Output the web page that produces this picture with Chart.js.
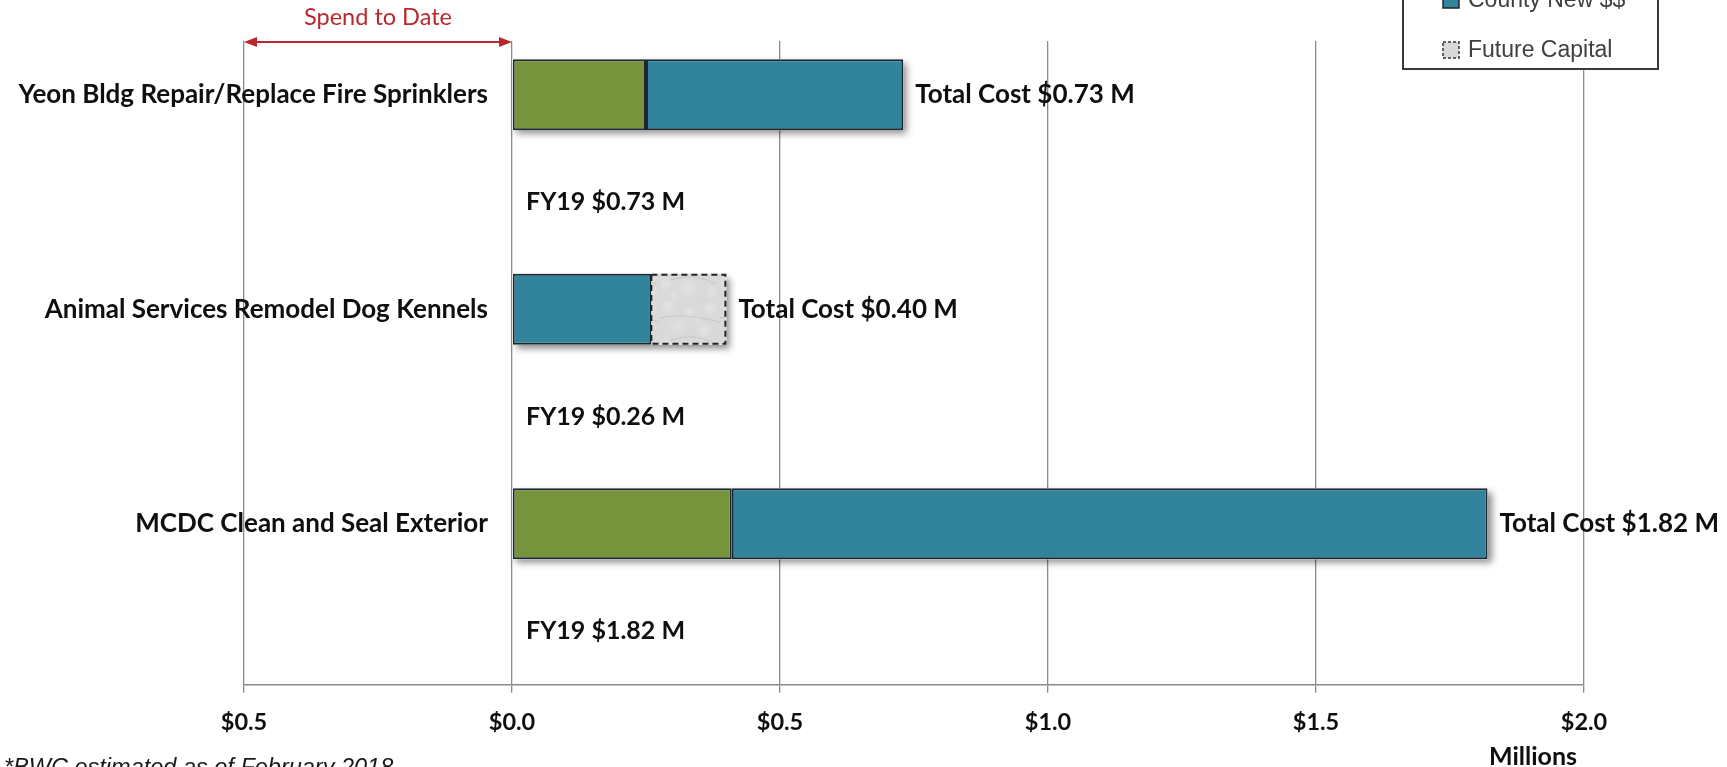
<!DOCTYPE html>
<html>
<head>
<meta charset="utf-8">
<script src="https://cdn.jsdelivr.net/npm/chart.js@4/dist/chart.umd.min.js"></script>
<style>
  html, body { margin: 0; padding: 0; background: #ffffff; overflow: hidden; }
  #wrap { position: relative; width: 1727px; height: 767px; }
</style>
</head>
<body>
<div id="wrap"><canvas id="c" width="1727" height="767"></canvas></div>
<script>
// Project rows; the blank rows carry the FY19 funding notes
const categories = [
  'Yeon Bldg Repair/Replace Fire Sprinklers', '',
  'Animal Services Remodel Dog Kennels', '',
  'MCDC Clean and Seal Exterior', ''
];
// $ millions
const spentToDate   = [0.25, null, null, null, 0.41, null];
const countyNew     = [0.48, null, 0.26, null, 1.41, null];
const futureCapital = [null, null, 0.14, null, null, null];
const fy19Funding   = [null, 0.73, null, 0.26, null, 1.82];
const seriesNames   = ['County Existing $$', 'County New $$', 'Future Capital'];

const GREEN = '#77933C', TEAL = '#31849B', OUTLINE = '#1b2631', INK = '#0f0f0f';
const NAME_FONT = 'bold 26px Lato';
const NOTE_FONT = 'bold 25px Lato';

// light grey mottled fill for unfunded work
function stoneFill() {
  const p = document.createElement('canvas');
  p.width = 60; p.height = 60;
  const g = p.getContext('2d');
  g.fillStyle = '#d9d9d9';
  g.fillRect(0, 0, 60, 60);
  const spots = [
    [8, 6, 9, 0.30], [30, 12, 7, 0.25], [50, 8, 8, 0.28], [18, 26, 10, 0.22], [44, 30, 9, 0.30],
    [6, 44, 8, 0.26], [28, 48, 11, 0.24], [52, 52, 7, 0.28], [38, 20, 5, 0.2], [14, 56, 6, 0.22]
  ];
  spots.forEach(([x, y, r, a]) => {
    const rg = g.createRadialGradient(x, y, 0, x, y, r);
    rg.addColorStop(0, 'rgba(255,255,255,' + a + ')');
    rg.addColorStop(1, 'rgba(255,255,255,0)');
    g.fillStyle = rg;
    g.fillRect(x - r, y - r, 2 * r, 2 * r);
  });
  g.strokeStyle = 'rgba(160,160,160,0.30)';
  g.lineWidth = 1;
  [[0, 18, 20, 12, 60, 22], [10, 40, 34, 32, 56, 44]].forEach(s => {
    g.beginPath(); g.moveTo(s[0], s[1]); g.quadraticCurveTo(s[2], s[3], s[4], s[5]); g.stroke();
  });
  return g.createPattern(p, 'repeat');
}

function rowTotal(i) {
  return (spentToDate[i] || 0) + (countyNew[i] || 0) + (futureCapital[i] || 0);
}

// soft drop shadow under each whole stacked bar, dashed edge on future capital
const stackShadow = {
  id: 'stackShadow',
  beforeDatasetsDraw(chart) {
    const ctx = chart.ctx, xs = chart.scales.x, ys = chart.scales.y;
    const thick = chart.getDatasetMeta(1).data.find(e => e && isFinite(e.height) && e.height > 0);
    if (!thick) return;
    const h = thick.height;
    ctx.save();
    ctx.shadowColor = 'rgba(0,0,0,0.45)';
    ctx.shadowBlur = 7;
    ctx.shadowOffsetX = 4;
    ctx.shadowOffsetY = 4;
    ctx.fillStyle = '#ffffff';
    categories.forEach((_, i) => {
      const t = rowTotal(i);
      if (!t) return;
      const x0 = xs.getPixelForValue(0), x1 = xs.getPixelForValue(t), yc = ys.getPixelForValue(i);
      ctx.fillRect(x0, yc - h / 2, x1 - x0, h);
    });
    ctx.restore();
  },
  afterDatasetsDraw(chart) {
    const ctx = chart.ctx;
    const meta = chart.getDatasetMeta(2);
    ctx.save();
    ctx.strokeStyle = '#222222';
    ctx.lineWidth = 2;
    ctx.setLineDash([6, 4]);
    meta.data.forEach((el, i) => {
      if (futureCapital[i] == null) return;
      const p = el.getProps(['x', 'y', 'base', 'height'], true);
      const l = Math.min(p.x, p.base), r = Math.max(p.x, p.base);
      ctx.strokeRect(l, p.y - p.height / 2 + 1, r - l - 1, p.height - 2);
    });
    ctx.restore();
  }
};

// category names, value notes, spend bracket, legend, footnotes
const annotations = {
  id: 'annotations',
  afterDraw(chart) {
    const ctx = chart.ctx, xs = chart.scales.x, ys = chart.scales.y;
    const zeroX = xs.getPixelForValue(0);
    ctx.save();
    ctx.fillStyle = INK;
    ctx.textBaseline = 'middle';

    categories.forEach((name, i) => {
      const yc = ys.getPixelForValue(i);
      if (name) {
        ctx.font = NAME_FONT;
        ctx.textAlign = 'right';
        ctx.fillText(name, zeroX - 24, yc);
      }
      const t = rowTotal(i);
      if (t) {
        ctx.font = NAME_FONT;
        ctx.textAlign = 'left';
        ctx.fillText('Total Cost $' + t.toFixed(2) + ' M', xs.getPixelForValue(t) + 12, yc);
      }
      if (fy19Funding[i] != null) {
        ctx.font = NOTE_FONT;
        ctx.textAlign = 'left';
        ctx.fillText('FY19 $' + fy19Funding[i].toFixed(2) + ' M', zeroX + 14, yc);
      }
    });

    // spend-to-date bracket across the negative side of the axis
    const aL = xs.getPixelForValue(-0.5), aR = zeroX, aY = 42;
    ctx.strokeStyle = '#B8282E';
    ctx.fillStyle = '#B8282E';
    ctx.lineWidth = 2;
    ctx.beginPath();
    ctx.moveTo(aL + 4, aY); ctx.lineTo(aR - 4, aY); ctx.stroke();
    [[aL, 1], [aR, -1]].forEach(([px, dir]) => {
      ctx.beginPath();
      ctx.moveTo(px, aY);
      ctx.lineTo(px + dir * 13, aY - 5);
      ctx.lineTo(px + dir * 13, aY + 5);
      ctx.closePath();
      ctx.fill();
    });
    ctx.font = '23.5px Lato';
    ctx.textAlign = 'center';
    ctx.textBaseline = 'alphabetic';
    ctx.fillText('Spend to Date', (aL + aR) / 2, 25);

    // axis unit
    ctx.fillStyle = INK;
    ctx.font = NOTE_FONT;
    ctx.textAlign = 'center';
    ctx.fillText('Millions', 1533, 765);

    // footnote
    ctx.font = 'italic 23.5px "Liberation Sans"';
    ctx.textAlign = 'left';
    ctx.fillStyle = '#1a1a1a';
    ctx.fillText('*BWC estimated as of February 2018', 4, 775);

    // legend box (top entries run off the top edge)
    const lx = 1403, lw = 255, lb = 69, pitch = 50;
    ctx.fillStyle = '#ffffff';
    ctx.fillRect(lx, lb - 180, lw, 180);
    ctx.strokeStyle = '#3a3a3a';
    ctx.lineWidth = 2;
    ctx.setLineDash([]);
    ctx.strokeRect(lx, lb - 180, lw, 180);
    ctx.font = '23px "Liberation Sans"';
    ctx.textAlign = 'left';
    chart.data.datasets.forEach((ds, k) => {
      const base = 57 - (chart.data.datasets.length - 1 - k) * pitch;
      const sx = 1443, sy = base - 15, ss = 16;
      if (k === 2) {
        ctx.fillStyle = '#d9d9d9';
        ctx.fillRect(sx, sy, ss, ss);
        ctx.strokeStyle = '#333333';
        ctx.lineWidth = 1.5;
        ctx.setLineDash([3, 2]);
        ctx.strokeRect(sx, sy, ss, ss);
        ctx.setLineDash([]);
      } else {
        ctx.fillStyle = ds.backgroundColor;
        ctx.fillRect(sx, sy, ss, ss);
        ctx.strokeStyle = OUTLINE;
        ctx.lineWidth = 1.5;
        ctx.strokeRect(sx, sy, ss, ss);
      }
      ctx.fillStyle = '#404040';
      ctx.fillText(ds.label, 1468, base);
    });
    ctx.restore();
  }
};

function build() {
  const barStyle = { borderWidth: 2, borderColor: OUTLINE, borderSkipped: false, barPercentage: 1, categoryPercentage: 0.662 };
  new Chart(document.getElementById('c'), {
    type: 'bar',
    data: {
      labels: categories,
      datasets: [
        Object.assign({ label: seriesNames[0], data: spentToDate, backgroundColor: GREEN }, barStyle),
        Object.assign({ label: seriesNames[1], data: countyNew, backgroundColor: TEAL }, barStyle),
        Object.assign({ label: seriesNames[2], data: futureCapital, backgroundColor: stoneFill() }, barStyle, { borderWidth: 0 })
      ]
    },
    options: {
      indexAxis: 'y',
      responsive: false,
      animation: false,
      devicePixelRatio: 1,
      layout: { padding: { left: 244, right: 143, top: 41, bottom: 14 } },
      plugins: { legend: { display: false }, tooltip: { enabled: false } },
      scales: {
        x: {
          stacked: true,
          min: -0.5, max: 2.0,
          border: { display: true, color: '#8a8a8a', width: 1.5 },
          grid: { color: '#8a8a8a', lineWidth: 1.3, tickLength: 8, drawTicks: true },
          ticks: {
            stepSize: 0.5, padding: 16, color: INK,
            font: { family: 'Lato', size: 23.5, weight: 'bold' },
            maxRotation: 0,
            callback: v => '$' + Math.abs(v).toFixed(1)
          }
        },
        y: { stacked: true, display: false }
      }
    },
    plugins: [stackShadow, annotations]
  });
}

Promise.all([
  document.fonts.load('bold 26px Lato'),
  document.fonts.load('23.5px Lato'),
  document.fonts.load('23px "Liberation Sans"'),
  document.fonts.load('italic 24px "Liberation Sans"')
]).then(build, build);
</script>
</body>
</html>
